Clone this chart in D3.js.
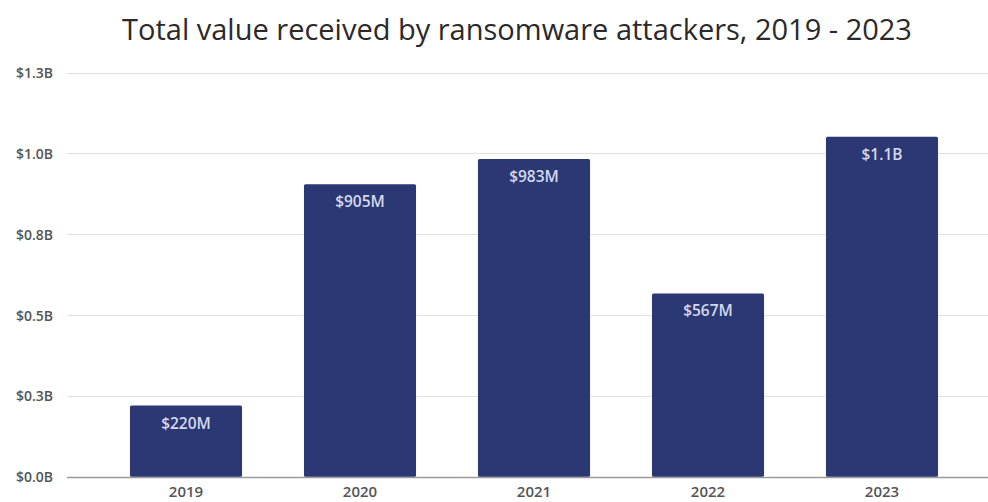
<!DOCTYPE html>
<html><head><meta charset="utf-8">
<script src="https://cdn.jsdelivr.net/npm/d3@7"></script>
<style>body{margin:0;background:#fff}svg{display:block}</style>
</head><body>
<svg id="c" width="988" height="502"></svg>
<script>
const title = "Total value received by ransomware attackers, 2019 - 2023";
const years = ["2019", "2020", "2021", "2022", "2023"];
const valuesM = [220, 905, 983, 567, 1052];
const tickValuesM = [0, 250, 500, 750, 1000, 1250];
const tickLabels = ["$0.0B", "$0.3B", "$0.5B", "$0.8B", "$1.0B", "$1.3B"];

const svg = d3.select("#c");
const W = 988;
const y = d3.scaleLinear().domain([0, 1250]).range([476.7, 72.7]);
const x = d3.scaleBand().domain(years).range([99, 969]).paddingInner(0.356).paddingOuter(0.178);

// title
svg.append("text").attr("x", 517).attr("y", 40).attr("text-anchor", "middle")
  .attr("font-family", "'Open Sans', sans-serif").attr("font-size", 29)
  .attr("fill", "#2a2a2a").text(title);

// gridlines
const grid = svg.append("g");
grid.selectAll("line").data(tickValuesM).join("line")
  .attr("x1", 67).attr("x2", W)
  .attr("y1", d => Math.round(y(d)) + 0.5).attr("y2", d => Math.round(y(d)) + 0.5)
  .attr("stroke", d => d === 0 ? "#9a9a9a" : "#e2e2e2").attr("stroke-width", d => d === 0 ? 1.5 : 1.2);

// y axis labels
const yAxis = d3.axisLeft(y).tickValues(tickValuesM).tickSize(0)
  .tickFormat((d, i) => tickLabels[i]);
const gy = svg.append("g").attr("transform", "translate(56,0)").call(yAxis);
gy.select(".domain").remove();
gy.selectAll("text").attr("font-family", "'Open Sans', sans-serif").attr("font-size", 14)
  .attr("font-weight", 600).attr("fill", "#555").attr("dy", "0.35em");

// bars
svg.append("g").selectAll("rect").data(years).join("rect")
  .attr("x", d => x(d)).attr("width", x.bandwidth())
  .attr("y", (d, i) => y(valuesM[i])).attr("height", (d, i) => y(0) - y(valuesM[i]))
  .attr("fill", "#2c3873").attr("rx", 1.5);

// bar labels
const fmt = v => v >= 1000 ? "$" + (v / 1000).toFixed(1) + "B" : "$" + v + "M";
svg.append("g").selectAll("text").data(years).join("text")
  .attr("x", d => x(d) + x.bandwidth() / 2)
  .attr("y", (d, i) => y(valuesM[i]) + 23)
  .attr("text-anchor", "middle").attr("font-family", "'Open Sans', sans-serif")
  .attr("font-size", 15.5).attr("font-weight", 600).attr("fill", "#d4d9ee")
  .text((d, i) => fmt(valuesM[i]));

// x axis labels
const xAxis = d3.axisBottom(x).tickSize(0);
const gx = svg.append("g").attr("transform", "translate(0,477)").call(xAxis);
gx.select(".domain").remove();
gx.selectAll("text").attr("font-family", "'Open Sans', sans-serif").attr("font-size", 15)
  .attr("font-weight", 600).attr("fill", "#555").attr("dy", "1.15em");
</script>
</body></html>
